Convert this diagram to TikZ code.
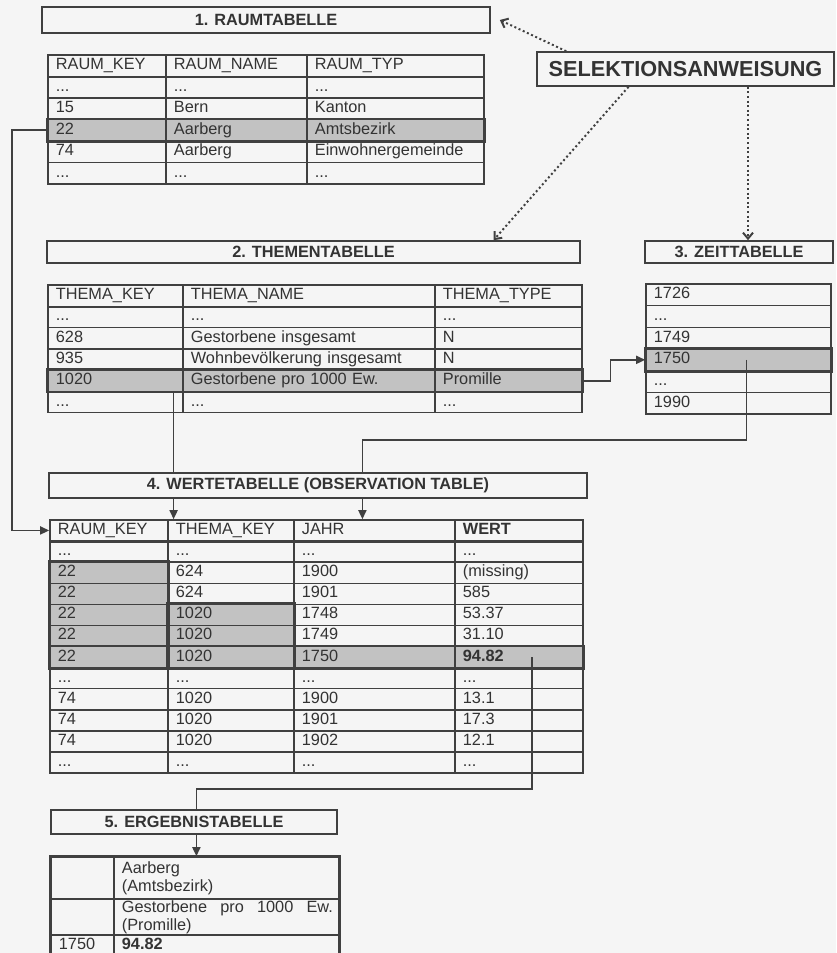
\documentclass[tikz,border=0pt]{standalone}
\usepackage{fontspec}
\setmainfont{Liberation Sans}
\usetikzlibrary{matrix,arrows.meta}

\definecolor{bgcol}{gray}{0.96}
\definecolor{linecol}{gray}{0.25}
\definecolor{textcol}{gray}{0.2}
\definecolor{hlcol}{gray}{0.76}

\begin{document}
\begin{tikzpicture}[
        x=1pt, y=-1pt,
        font=\fontsize{16.3}{18}\selectfont, text=textcol,
        titlebox/.style={draw=linecol, line width=1.6pt, fill=bgcol, minimum height=24pt, inner sep=0pt, font=\fontsize{16.3}{18}\selectfont\bfseries},
        tabelle/.style={matrix of nodes, nodes in empty cells, anchor=north west, inner sep=0pt, column sep=-1.4pt, row sep=-1.4pt,
            nodes={draw=linecol, line width=1.4pt, inner xsep=8pt, inner ysep=0pt, text height=11.5pt, text depth=3.5pt, minimum height=21.5pt, align=left, anchor=center}},
        hl/.style={fill=hlcol},
        hlbox/.style={draw=linecol, line width=2.4pt},
        arrow/.style={-{Triangle[length=9pt,width=8pt]}, draw=linecol, line width=1.7pt},
        selarrow/.style={-{Straight Barb[length=6pt,width=10pt]}, draw=linecol, line width=2pt, dash pattern=on 2pt off 2.6pt}
    ]
    \useasboundingbox (0,0) rectangle (836,953);
    \fill[bgcol] (0,0) rectangle (836,953);

    % --- 1. Raumtabelle ---
    \matrix (raum) [tabelle, column 1/.style={nodes={text width=102pt}}, column 2/.style={nodes={text width=125pt}}, column 3/.style={nodes={text width=161pt}}] at (47,54) {
        RAUM\_KEY & RAUM\_NAME & RAUM\_TYP \\
        ... & ... & ... \\
        15 & Bern & Kanton \\
        |[hl]| 22 & |[hl]| Aarberg & |[hl]| Amtsbezirk \\
        74 & Aarberg & Einwohnergemeinde \\
        ... & ... & ... \\
    };

    % --- 2. Thementabelle ---
    \matrix (thema) [tabelle, nodes={minimum height=21.3pt}, column 1/.style={nodes={text width=119pt}}, column 2/.style={nodes={text width=236pt}}, column 3/.style={nodes={text width=131pt}}] at (47,284) {
        THEMA\_KEY & THEMA\_NAME & THEMA\_TYPE \\
        ... & ... & ... \\
        628 & Gestorbene insgesamt & N \\
        935 & Wohnbevölkerung insgesamt & N \\
        |[hl]| 1020 & |[hl]| Gestorbene pro 1000 Ew. & |[hl]| Promille \\
        ... & ... & ... \\
    };

    % --- 3. Zeittabelle ---
    \matrix (zeit) [tabelle, nodes={minimum height=21.7pt, text width=169pt}] at (645,283) {
        1726 \\
        ... \\
        1749 \\
        |[hl]| 1750 \\
        ... \\
        1990 \\
    };

    % --- 4. Wertetabelle ---
    \matrix (werte) [tabelle, nodes={minimum height=21.1pt}, column 1/.style={nodes={text width=102pt}}, column 2/.style={nodes={text width=110pt}}, column 3/.style={nodes={text width=145pt}}, column 4/.style={nodes={text width=112pt}}] at (49,519) {
        RAUM\_KEY & THEMA\_KEY & JAHR & \textbf{WERT} \\
        ... & ... & ... & ... \\
        |[hl]| 22 & 624 & 1900 & (missing) \\
        |[hl]| 22 & 624 & 1901 & 585 \\
        |[hl]| 22 & |[hl]| 1020 & 1748 & 53.37 \\
        |[hl]| 22 & |[hl]| 1020 & 1749 & 31.10 \\
        |[hl]| 22 & |[hl]| 1020 & |[hl]| 1750 & |[hl]| \textbf{94.82} \\
        ... & ... & ... & ... \\
        74 & 1020 & 1900 & 13.1 \\
        74 & 1020 & 1901 & 17.3 \\
        74 & 1020 & 1902 & 12.1 \\
        ... & ... & ... & ... \\
    };

    % --- 5. Ergebnistabelle ---
    \matrix (ergebnis) [tabelle, column 1/.style={nodes={text width=47pt}}, column 2/.style={nodes={text width=209pt}},
        row 1/.style={nodes={minimum height=42pt, text height={}, text depth={}}}, row 2/.style={nodes={minimum height=36pt, text height={}, text depth={}}}, row 3/.style={nodes={minimum height=22pt}}] at (50,856) {
        & {Aarberg\\(Amtsbezirk)} \\
        & {\hbox to 211pt{Gestorbene\hfill pro\hfill 1000\hfill Ew.}\\(Promille)} \\
        1750 & \textbf{94.82} \\
    };

    % --- highlighted rows ---
    \draw[hlbox] (raum-4-1.north west) rectangle (raum-4-3.south east);
    \draw[hlbox] (thema-5-1.north west) rectangle (thema-5-3.south east);
    \draw[hlbox] (zeit-4-1.north west) rectangle (zeit-4-1.south east);
    \draw[hlbox] (werte-3-1.north west) rectangle (werte-7-1.south east);
    \draw[hlbox] (werte-5-2.north west) rectangle (werte-7-2.south east);
    \draw[hlbox] (werte-7-1.north west) rectangle (werte-7-4.south east);
    \draw[hlbox] (ergebnis-1-1.north west) rectangle (ergebnis-3-2.south east);
    \draw[hlbox, line width=2pt] (raum-1-1.south west) -- (raum-1-3.south east);
    \draw[hlbox, line width=2pt] (thema-1-1.south west) -- (thema-1-3.south east);
    \draw[hlbox, line width=2pt] (werte-1-1.south west) -- (werte-1-4.south east);

    % --- keys into the Wertetabelle ---
    \draw[arrow] (raum-4-1.west) -- ++(-35,0) |- (werte-1-1.west);
    \draw[arrow] ([xshift=-10pt]thema-5-1.south east) -- ([xshift=-10pt]thema-5-1.south east |- werte-1-2.north);
    \draw[arrow] (thema-5-3.east) -- ++(28,0) |- (zeit-4-1.west);
    \draw[arrow] ([xshift=8pt]zeit-4-1.center) -- ++(0,80) -| ([xshift=-12pt]werte-1-3.north);
    \draw[arrow] ([xshift=13pt]werte-7-4.center) -- ++(0,132) -| ([xshift=-30pt]ergebnis-1-2.north);

    % --- titles ---
    \node[titlebox, minimum width=448pt, minimum height=26pt] (raumtitel) at (266,20) {1. RAUMTABELLE};
    \node[titlebox, minimum width=533pt, minimum height=22pt] (thementitel) at (313.5,252) {2. THEMENTABELLE};
    \node[titlebox, minimum width=188pt, minimum height=22pt] (zeittitel) at (739,252) {3. ZEITTABELLE};
    \node[titlebox, minimum width=538pt, minimum height=25pt] (wertetitel) at (318,485.5) {4. WERTETABELLE (OBSERVATION TABLE)};
    \node[titlebox] (ergebnistitel) [minimum width=286pt] at (194,822) {5. ERGEBNISTABELLE};

    % --- Selektionsanweisung ---
    \node[titlebox, minimum width=297pt, minimum height=34pt, font=\fontsize{21.7}{24}\selectfont\bfseries] (sel) at (685.5,69) {SELEKTIONSANWEISUNG};
    \draw[selarrow] ([xshift=30pt]sel.north west) -- ([xshift=9pt]raumtitel.east);
    \draw[selarrow] ([xshift=-57pt]sel.south) -- ([xshift=180pt]thementitel.north);
    \draw[selarrow] ([xshift=9pt]zeittitel.north |- sel.south) -- ([xshift=9pt]zeittitel.north);

\end{tikzpicture}
\end{document}
